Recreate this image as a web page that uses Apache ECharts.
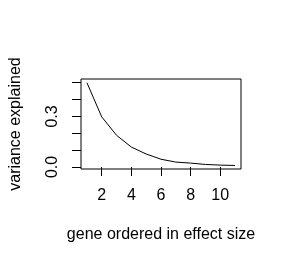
<!DOCTYPE html>
<html>
<head>
<meta charset="utf-8">
<script src="https://cdn.jsdelivr.net/npm/echarts@6/dist/echarts.min.js"></script>
<style>
	html, body { margin: 0; padding: 0; background: #fff; }
	#variance_chart { width: 282px; height: 268px; }
</style>
</head>
<body>
<div id="variance_chart"></div>
<script>
	// gene rank (ordered by effect size) and share of variance explained
	var geneRank = [1, 2, 3, 4, 5, 6, 7, 8, 9, 10, 11]
	var varianceExplained = [0.5, 0.297, 0.188, 0.118, 0.077, 0.046, 0.029, 0.023, 0.015, 0.011, 0.009]
	var xTicks = [2, 4, 6, 8, 10]
	var yTicks = [0, 0.1, 0.2, 0.3, 0.4, 0.5]
	var yLabels = [0, 0.3]

	var fontName = 'Liberation Sans'
	var chart = echarts.init(document.getElementById('variance_chart'))

	chart.setOption({
		animation: false,
		grid: {
			left: 79,
			right: 41,
			top: 79,
			bottom: 99,
			show: true,
			borderColor: '#000',
			borderWidth: 1
		},
		xAxis: {
			type: 'value',
			min: 0.6,
			max: 11.4,
			name: 'gene ordered in effect size',
			nameLocation: 'middle',
			nameGap: 58,
			nameTextStyle: { color: '#000', fontSize: 16, fontFamily: fontName },
			axisLine: { show: false },
			splitLine: { show: false },
			axisTick: {
				show: true,
				length: 9,
				customValues: xTicks,
				lineStyle: { color: '#000', width: 1 }
			},
			axisLabel: {
				customValues: xTicks,
				margin: 19,
				color: '#000',
				fontSize: 16,
				fontFamily: fontName
			}
		},
		yAxis: {
			type: 'value',
			min: -0.012,
			max: 0.522,
			name: 'variance explained',
			nameLocation: 'middle',
			nameGap: 57,
			nameTextStyle: { color: '#000', fontSize: 16, fontFamily: fontName },
			axisLine: { show: false },
			splitLine: { show: false },
			axisTick: {
				show: true,
				length: 9,
				customValues: yTicks,
				lineStyle: { color: '#000', width: 1 }
			},
			axisLabel: {
				customValues: yLabels,
				rotate: 90,
				margin: 20,
				color: '#000',
				fontSize: 16,
				fontFamily: fontName,
				formatter: function(v) { return v.toFixed(1) }
			}
		},
		series: [
			{
				type: 'line',
				data: geneRank.map(function(g, i) { return [g, varianceExplained[i]] }),
				symbol: 'none',
				lineStyle: { color: '#000', width: 1 }
			}
		]
	})
</script>
</body>
</html>
